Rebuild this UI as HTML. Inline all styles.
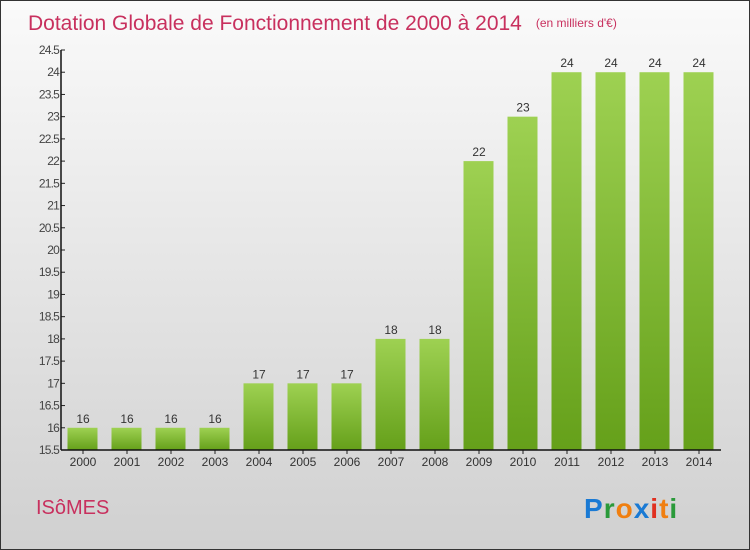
<!DOCTYPE html>
<html><head><meta charset="utf-8"><style>
body{margin:0;width:750px;height:550px;overflow:hidden;font-family:"Liberation Sans",sans-serif}
#wrap{position:absolute;left:0;top:0;width:748px;height:548px;border:1px solid #333;background:linear-gradient(#fafafa,#d0d0d0)}
</style></head><body>
<div id="wrap">
<svg width="750" height="550" style="position:absolute;left:-1px;top:-1px" id="svg">
<defs><linearGradient id="bg" x1="0" y1="0" x2="0" y2="1"><stop offset="0" stop-color="#9ed152"/><stop offset="1" stop-color="#65a01a"/></linearGradient></defs>
<text x="28" y="30" font-size="21" fill="#c8305e">Dotation Globale de Fonctionnement de 2000 à 2014<tspan font-size="12" dx="14" dy="-3">(en milliers d'€)</tspan></text>
<text x="36" y="514" font-size="20" fill="#c8305e">ISôMES</text>
<g font-size="28" font-weight="bold">
<text x="584" y="518" letter-spacing="1"><tspan fill="#1a7ad4">P</tspan><tspan fill="#2a9a3a">r</tspan><tspan fill="#f07f10">o</tspan><tspan fill="#1a7ad4">x</tspan><tspan fill="#e03020">i</tspan><tspan fill="#f07f10">t</tspan><tspan fill="#2a9a3a">i</tspan></text></g>
<g id="plot"></g>
</svg></div>
<script>
const years=["2000","2001","2002","2003","2004","2005","2006","2007","2008","2009","2010","2011","2012","2013","2014"];
const values=[16,16,16,16,17,17,17,18,18,22,23,24,24,24,24];
const yTicks=[15.5,16,16.5,17,17.5,18,18.5,19,19.5,20,20.5,21,21.5,22,22.5,23,23.5,24,24.5];
const NS="http://www.w3.org/2000/svg",g=document.getElementById('plot');
const x0=61,x1=721,yTop=50,yBot=450,ymin=15.5,ymax=24.5,band=(x1-x0)/years.length;
const Y=v=>yBot-(v-ymin)/(ymax-ymin)*(yBot-yTop);
const X=i=>x0+band*(i+0.5);
function mk(t,a,txt){const e=document.createElementNS(NS,t);for(const k in a)e.setAttribute(k,a[k]);if(txt!=null)e.textContent=txt;g.appendChild(e);return e;}
yTicks.forEach(v=>{
 const t=mk('line',{x1:x0,x2:x0+4,y1:Y(v),y2:Y(v),stroke:'#222'});
 
 
 const l=mk('text',{x:x0-2,y:Y(v)+4,'font-size':12,'text-anchor':'end',fill:'#444','letter-spacing':'-0.8'},String(v));
 
 
});
years.forEach((yr,i)=>{
 const b=mk('rect',{x:X(i)-15.5,y:Y(values[i]),width:30,height:yBot-Y(values[i]),fill:'url(#bg)'});
 
 
 const v=mk('text',{x:X(i),y:Y(values[i])-5,'font-size':12,'text-anchor':'middle',fill:'#333'},String(values[i]));
 
 
 const t=mk('line',{x1:X(i),x2:X(i),y1:yBot,y2:yBot+4,stroke:'#222'});
 
 
 const l=mk('text',{x:X(i),y:yBot+16,'font-size':12,'text-anchor':'middle',fill:'#333'},yr);
 
 
});
const ya=mk('line',{x1:x0,x2:x0,y1:yTop,y2:yBot,stroke:'#111','stroke-width':1.5});


const xa=mk('line',{x1:x0,x2:x1,y1:yBot,y2:yBot,stroke:'#111','stroke-width':1.5});


</script>
</body></html>
